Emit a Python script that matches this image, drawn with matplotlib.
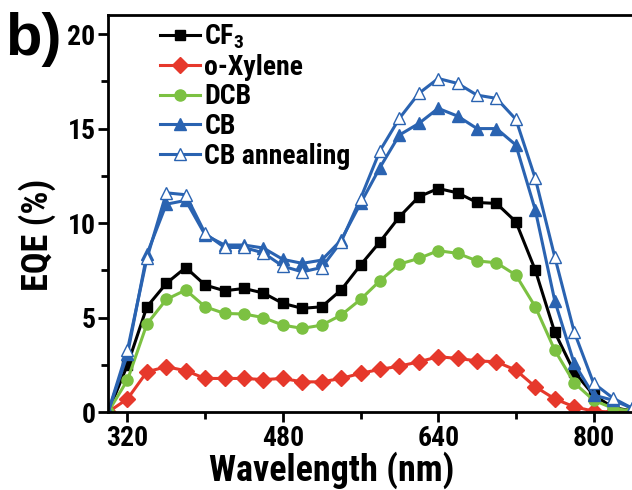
import matplotlib
matplotlib.use('Agg')
import matplotlib.pyplot as plt
from matplotlib.ticker import MultipleLocator

plt.rcParams['font.family'] = ['Roboto Condensed', 'Liberation Sans', 'DejaVu Sans']
plt.rcParams['font.weight'] = 'bold'
plt.rcParams['mathtext.fontset'] = 'custom'
plt.rcParams['mathtext.bf'] = 'Roboto Condensed:bold'
plt.rcParams['mathtext.rm'] = 'Roboto Condensed:bold'
plt.rcParams['mathtext.default'] = 'bf'

# wavelength (nm) and EQE (%)
wavelength = [300, 320, 340, 360, 380, 400, 420, 440, 460, 480, 500, 520, 540, 560,
              580, 600, 620, 640, 660, 680, 700, 720, 740, 760, 780, 800, 820, 840]
cf3 = [0, 2.5, 5.57, 6.81, 7.65, 6.72, 6.42, 6.54, 6.3, 5.75, 5.49, 5.57, 6.46, 7.78,
       9.01, 10.33, 11.39, 11.83, 11.6, 11.09, 11.04, 10.07, 7.51, 4.23, 2.13, 0.9, 0.25, 0.05]
xylene = [0, 0.7, 2.13, 2.4, 2.19, 1.78, 1.78, 1.78, 1.72, 1.78, 1.6, 1.6, 1.78, 2.05,
          2.26, 2.43, 2.66, 2.93, 2.84, 2.71, 2.66, 2.22, 1.34, 0.7, 0.28, 0.05, 0, 0]
dcb = [0, 1.7, 4.66, 5.96, 6.46, 5.57, 5.22, 5.19, 5.0, 4.6, 4.43, 4.6, 5.13, 5.96,
       6.95, 7.83, 8.13, 8.54, 8.4, 8.0, 7.9, 7.25, 5.57, 3.28, 1.55, 0.63, 0.2, 0.05]
cb = [0, 3.05, 8.36, 11.0, 11.2, 9.37, 8.84, 8.84, 8.68, 8.08, 7.87, 8.04, 9.1, 11.04,
      12.94, 14.66, 15.27, 16.07, 15.66, 15.0, 15.0, 14.13, 10.69, 5.9, 2.58, 0.9, 0.63, 0.2]
cb_ann = [0, 3.3, 8.13, 11.6, 11.5, 9.45, 8.71, 8.71, 8.42, 7.72, 7.42, 7.65, 9.01, 11.3,
          13.83, 15.54, 16.86, 17.65, 17.39, 16.77, 16.6, 15.49, 12.36, 8.22, 4.25, 1.53, 0.74, 0.2]

blue = '#2a63b1'

fig = plt.figure(figsize=(6.32, 4.9), dpi=100)
ax = fig.add_axes([0.171, 0.159, 0.845, 0.810])

ax.plot(wavelength, cf3, color='black', lw=2.2, marker='s', ms=7, label='CF$_3$')
ax.plot(wavelength, xylene, color='#e6382b', lw=2.2, marker='D', ms=8, label='o-Xylene')
ax.plot(wavelength, dcb, color='#7cc142', lw=2.2, marker='o', ms=8, label='DCB')
ax.plot(wavelength, cb, color=blue, lw=2.2, marker='^', ms=9, label='CB')
ax.plot(wavelength, cb_ann, color=blue, lw=2.2, marker='^', ms=9, mfc='white',
        mec=blue, mew=1.0, label='CB annealing')

ax.set_xlim(300, 850)
ax.set_ylim(0, 21)
ax.set_xticks([320, 480, 640, 800])
ax.xaxis.set_minor_locator(MultipleLocator(80))
ax.yaxis.set_major_locator(MultipleLocator(5))
ax.yaxis.set_minor_locator(MultipleLocator(2.5))

for s in ax.spines.values():
    s.set_linewidth(2.0)
ax.tick_params(which='both', direction='out', width=2.0, labelsize=20, pad=2)
ax.tick_params(which='major', length=7)
ax.tick_params(which='minor', length=5)

ax.set_xlabel('Wavelength (nm)', fontsize=26, fontweight='bold')
ax.xaxis.set_label_coords(0.418, -0.098)
ax.set_ylabel('EQE (%)', fontsize=26, fontweight='bold')
ax.yaxis.set_label_coords(-0.098, 0.446)

leg = ax.legend(loc='upper left', bbox_to_anchor=(0.097, 0.982), frameon=False,
                fontsize=20, handlelength=1.45, handletextpad=0.15,
                labelspacing=0.1, borderpad=0, borderaxespad=0)

fig.text(0.008, 0.975, 'b)', fontsize=43, fontweight='bold', va='top', ha='left',
         family=['Liberation Sans', 'DejaVu Sans'])

fig.savefig('out.png', dpi=100)
